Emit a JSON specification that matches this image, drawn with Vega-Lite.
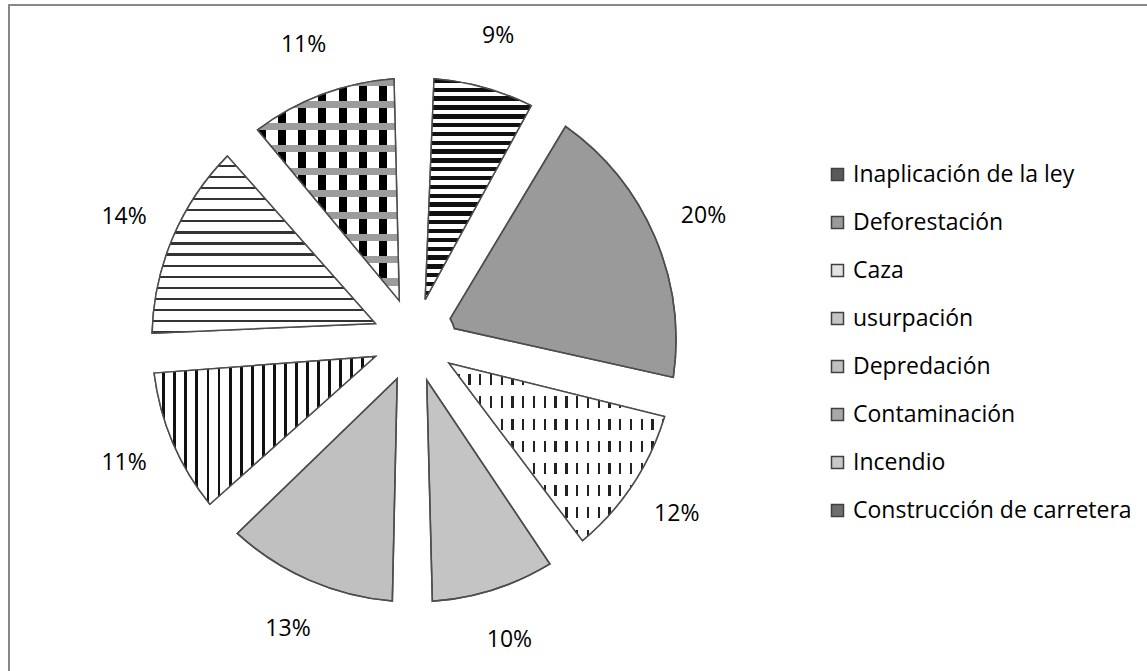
{
  "$schema": "https://vega.github.io/schema/vega-lite/v6.json",
  "width": 1138,
  "height": 666,
  "autosize": "none",
  "padding": {"left": 9, "top": 5, "right": 0, "bottom": 0},
  "background": "white",
  "config": {
    "view": {"stroke": "#888888", "strokeWidth": 2, "strokeDash": [1138, 1804, 666]}
  },
  "data": {
    "values": [
      {"cat": "Inaplicación de la ley", "v": 0.086, "orden": 1},
      {"cat": "Deforestación", "v": 0.199, "orden": 2},
      {"cat": "Caza", "v": 0.116, "orden": 3},
      {"cat": "usurpación", "v": 0.100, "orden": 4},
      {"cat": "Depredación", "v": 0.129, "orden": 5},
      {"cat": "Contaminación", "v": 0.112, "orden": 6},
      {"cat": "Incendio", "v": 0.144, "orden": 7},
      {"cat": "Construcción de carretera", "v": 0.114, "orden": 8}
    ]
  },
  "encoding": {
    "theta": {"field": "v", "type": "quantitative", "stack": true},
    "order": {"field": "orden", "type": "quantitative"},
    "detail": {"field": "cat", "type": "nominal"},
    "x": {"datum": 0.35589, "type": "quantitative", "scale": {"domain": [0, 1]}, "axis": null},
    "y": {"datum": 0.497, "type": "quantitative", "scale": {"domain": [0, 1]}, "axis": null}
  },
  "layer": [
    {
      "mark": {"type": "arc", "outerRadius": 262, "innerRadius": 42, "padAngle": 0.151, "stroke": "#4d4d4d", "strokeWidth": 1.5},
      "encoding": {
        "color": {
          "field": "cat", "type": "nominal",
          "scale": {
            "domain": ["Inaplicación de la ley", "Deforestación", "Caza", "usurpación", "Depredación", "Contaminación", "Incendio", "Construcción de carretera"],
            "range": ["#5a5a5a", "#9a9a9a", "#e2e2e2", "#c4c4c4", "#c0c0c0", "#a8a8a8", "#c8c8c8", "#6e6e6e"]
          },
          "legend": {
            "title": null, "orient": "none", "legendX": 817, "legendY": 158,
            "labelFont": "Open Sans", "labelFontSize": 23, "labelColor": "#000000",
            "symbolType": "square", "symbolSize": 144, "symbolStrokeColor": "#404040", "symbolStrokeWidth": 1.5,
            "rowPadding": 24, "labelOffset": 4, "padding": 0, "labelLimit": 400
          }
        }
      }
    },
    {
      "mark": {"type": "arc", "outerRadius": 262, "innerRadius": 42, "padAngle": 0.151, "strokeWidth": 0},
      "encoding": {
        "fill": {
          "condition": [
            {"test": "datum.cat === 'Inaplicación de la ley'", "value": {"gradient": "linear", "x1": 0, "y1": 0, "x2": 0, "y2": 1, "stops": [
              {"offset":0,"color":"#111"},{"offset":0.02,"color":"#111"},{"offset":0.02,"color":"#fff"},{"offset":0.04,"color":"#fff"},
              {"offset":0.04,"color":"#111"},{"offset":0.06,"color":"#111"},{"offset":0.06,"color":"#fff"},{"offset":0.08,"color":"#fff"},
              {"offset":0.08,"color":"#111"},{"offset":0.1,"color":"#111"},{"offset":0.1,"color":"#fff"},{"offset":0.12,"color":"#fff"},
              {"offset":0.12,"color":"#111"},{"offset":0.14,"color":"#111"},{"offset":0.14,"color":"#fff"},{"offset":0.16,"color":"#fff"},
              {"offset":0.16,"color":"#111"},{"offset":0.18,"color":"#111"},{"offset":0.18,"color":"#fff"},{"offset":0.2,"color":"#fff"},
              {"offset":0.2,"color":"#111"},{"offset":0.22,"color":"#111"},{"offset":0.22,"color":"#fff"},{"offset":0.24,"color":"#fff"},
              {"offset":0.24,"color":"#111"},{"offset":0.26,"color":"#111"},{"offset":0.26,"color":"#fff"},{"offset":0.28,"color":"#fff"},
              {"offset":0.28,"color":"#111"},{"offset":0.3,"color":"#111"},{"offset":0.3,"color":"#fff"},{"offset":0.32,"color":"#fff"},
              {"offset":0.32,"color":"#111"},{"offset":0.34,"color":"#111"},{"offset":0.34,"color":"#fff"},{"offset":0.36,"color":"#fff"},
              {"offset":0.36,"color":"#111"},{"offset":0.38,"color":"#111"},{"offset":0.38,"color":"#fff"},{"offset":0.4,"color":"#fff"},
              {"offset":0.4,"color":"#111"},{"offset":0.42,"color":"#111"},{"offset":0.42,"color":"#fff"},{"offset":0.44,"color":"#fff"},
              {"offset":0.44,"color":"#111"},{"offset":0.46,"color":"#111"},{"offset":0.46,"color":"#fff"},{"offset":0.48,"color":"#fff"},
              {"offset":0.48,"color":"#111"},{"offset":0.5,"color":"#111"},{"offset":0.5,"color":"#fff"},{"offset":0.52,"color":"#fff"},
              {"offset":0.52,"color":"#111"},{"offset":0.54,"color":"#111"},{"offset":0.54,"color":"#fff"},{"offset":0.56,"color":"#fff"},
              {"offset":0.56,"color":"#111"},{"offset":0.58,"color":"#111"},{"offset":0.58,"color":"#fff"},{"offset":0.6,"color":"#fff"},
              {"offset":0.6,"color":"#111"},{"offset":0.62,"color":"#111"},{"offset":0.62,"color":"#fff"},{"offset":0.64,"color":"#fff"},
              {"offset":0.64,"color":"#111"},{"offset":0.66,"color":"#111"},{"offset":0.66,"color":"#fff"},{"offset":0.68,"color":"#fff"},
              {"offset":0.68,"color":"#111"},{"offset":0.7,"color":"#111"},{"offset":0.7,"color":"#fff"},{"offset":0.72,"color":"#fff"},
              {"offset":0.72,"color":"#111"},{"offset":0.74,"color":"#111"},{"offset":0.74,"color":"#fff"},{"offset":0.76,"color":"#fff"},
              {"offset":0.76,"color":"#111"},{"offset":0.78,"color":"#111"},{"offset":0.78,"color":"#fff"},{"offset":0.8,"color":"#fff"},
              {"offset":0.8,"color":"#111"},{"offset":0.82,"color":"#111"},{"offset":0.82,"color":"#fff"},{"offset":0.84,"color":"#fff"},
              {"offset":0.84,"color":"#111"},{"offset":0.86,"color":"#111"},{"offset":0.86,"color":"#fff"},{"offset":0.88,"color":"#fff"},
              {"offset":0.88,"color":"#111"},{"offset":0.9,"color":"#111"},{"offset":0.9,"color":"#fff"},{"offset":0.92,"color":"#fff"},
              {"offset":0.92,"color":"#111"},{"offset":0.94,"color":"#111"},{"offset":0.94,"color":"#fff"},{"offset":0.96,"color":"#fff"},
              {"offset":0.96,"color":"#111"},{"offset":0.98,"color":"#111"},{"offset":0.98,"color":"#fff"},{"offset":1,"color":"#fff"}
            ]}},
            {"test": "datum.cat === 'Caza'", "value": {"gradient": "linear", "x1": 0, "y1": 0, "x2": 1, "y2": 0, "stops": [
              {"offset":0,"color":"#fff"},{"offset":0.039,"color":"#fff"},{"offset":0.039,"color":"#222"},{"offset":0.05,"color":"#222"},
              {"offset":0.05,"color":"#fff"},{"offset":0.089,"color":"#fff"},{"offset":0.089,"color":"#222"},{"offset":0.1,"color":"#222"},
              {"offset":0.1,"color":"#fff"},{"offset":0.139,"color":"#fff"},{"offset":0.139,"color":"#222"},{"offset":0.15,"color":"#222"},
              {"offset":0.15,"color":"#fff"},{"offset":0.189,"color":"#fff"},{"offset":0.189,"color":"#222"},{"offset":0.2,"color":"#222"},
              {"offset":0.2,"color":"#fff"},{"offset":0.239,"color":"#fff"},{"offset":0.239,"color":"#222"},{"offset":0.25,"color":"#222"},
              {"offset":0.25,"color":"#fff"},{"offset":0.289,"color":"#fff"},{"offset":0.289,"color":"#222"},{"offset":0.3,"color":"#222"},
              {"offset":0.3,"color":"#fff"},{"offset":0.339,"color":"#fff"},{"offset":0.339,"color":"#222"},{"offset":0.35,"color":"#222"},
              {"offset":0.35,"color":"#fff"},{"offset":0.389,"color":"#fff"},{"offset":0.389,"color":"#222"},{"offset":0.4,"color":"#222"},
              {"offset":0.4,"color":"#fff"},{"offset":0.439,"color":"#fff"},{"offset":0.439,"color":"#222"},{"offset":0.45,"color":"#222"},
              {"offset":0.45,"color":"#fff"},{"offset":0.489,"color":"#fff"},{"offset":0.489,"color":"#222"},{"offset":0.5,"color":"#222"},
              {"offset":0.5,"color":"#fff"},{"offset":0.539,"color":"#fff"},{"offset":0.539,"color":"#222"},{"offset":0.55,"color":"#222"},
              {"offset":0.55,"color":"#fff"},{"offset":0.589,"color":"#fff"},{"offset":0.589,"color":"#222"},{"offset":0.6,"color":"#222"},
              {"offset":0.6,"color":"#fff"},{"offset":0.639,"color":"#fff"},{"offset":0.639,"color":"#222"},{"offset":0.65,"color":"#222"},
              {"offset":0.65,"color":"#fff"},{"offset":0.689,"color":"#fff"},{"offset":0.689,"color":"#222"},{"offset":0.7,"color":"#222"},
              {"offset":0.7,"color":"#fff"},{"offset":0.739,"color":"#fff"},{"offset":0.739,"color":"#222"},{"offset":0.75,"color":"#222"},
              {"offset":0.75,"color":"#fff"},{"offset":0.789,"color":"#fff"},{"offset":0.789,"color":"#222"},{"offset":0.8,"color":"#222"},
              {"offset":0.8,"color":"#fff"},{"offset":0.839,"color":"#fff"},{"offset":0.839,"color":"#222"},{"offset":0.85,"color":"#222"},
              {"offset":0.85,"color":"#fff"},{"offset":0.889,"color":"#fff"},{"offset":0.889,"color":"#222"},{"offset":0.9,"color":"#222"},
              {"offset":0.9,"color":"#fff"},{"offset":0.939,"color":"#fff"},{"offset":0.939,"color":"#222"},{"offset":0.95,"color":"#222"},
              {"offset":0.95,"color":"#fff"},{"offset":0.989,"color":"#fff"},{"offset":0.989,"color":"#222"},{"offset":1,"color":"#222"}
            ]}},
            {"test": "datum.cat === 'Contaminación'", "value": {"gradient": "linear", "x1": 0, "y1": 0, "x2": 1, "y2": 0, "stops": [
              {"offset":0,"color":"#fff"},{"offset":0.037,"color":"#fff"},{"offset":0.037,"color":"#111"},{"offset":0.05,"color":"#111"},
              {"offset":0.05,"color":"#fff"},{"offset":0.087,"color":"#fff"},{"offset":0.087,"color":"#111"},{"offset":0.1,"color":"#111"},
              {"offset":0.1,"color":"#fff"},{"offset":0.137,"color":"#fff"},{"offset":0.137,"color":"#111"},{"offset":0.15,"color":"#111"},
              {"offset":0.15,"color":"#fff"},{"offset":0.187,"color":"#fff"},{"offset":0.187,"color":"#111"},{"offset":0.2,"color":"#111"},
              {"offset":0.2,"color":"#fff"},{"offset":0.237,"color":"#fff"},{"offset":0.237,"color":"#111"},{"offset":0.25,"color":"#111"},
              {"offset":0.25,"color":"#fff"},{"offset":0.287,"color":"#fff"},{"offset":0.287,"color":"#111"},{"offset":0.3,"color":"#111"},
              {"offset":0.3,"color":"#fff"},{"offset":0.337,"color":"#fff"},{"offset":0.337,"color":"#111"},{"offset":0.35,"color":"#111"},
              {"offset":0.35,"color":"#fff"},{"offset":0.387,"color":"#fff"},{"offset":0.387,"color":"#111"},{"offset":0.4,"color":"#111"},
              {"offset":0.4,"color":"#fff"},{"offset":0.437,"color":"#fff"},{"offset":0.437,"color":"#111"},{"offset":0.45,"color":"#111"},
              {"offset":0.45,"color":"#fff"},{"offset":0.487,"color":"#fff"},{"offset":0.487,"color":"#111"},{"offset":0.5,"color":"#111"},
              {"offset":0.5,"color":"#fff"},{"offset":0.537,"color":"#fff"},{"offset":0.537,"color":"#111"},{"offset":0.55,"color":"#111"},
              {"offset":0.55,"color":"#fff"},{"offset":0.587,"color":"#fff"},{"offset":0.587,"color":"#111"},{"offset":0.6,"color":"#111"},
              {"offset":0.6,"color":"#fff"},{"offset":0.637,"color":"#fff"},{"offset":0.637,"color":"#111"},{"offset":0.65,"color":"#111"},
              {"offset":0.65,"color":"#fff"},{"offset":0.687,"color":"#fff"},{"offset":0.687,"color":"#111"},{"offset":0.7,"color":"#111"},
              {"offset":0.7,"color":"#fff"},{"offset":0.737,"color":"#fff"},{"offset":0.737,"color":"#111"},{"offset":0.75,"color":"#111"},
              {"offset":0.75,"color":"#fff"},{"offset":0.787,"color":"#fff"},{"offset":0.787,"color":"#111"},{"offset":0.8,"color":"#111"},
              {"offset":0.8,"color":"#fff"},{"offset":0.837,"color":"#fff"},{"offset":0.837,"color":"#111"},{"offset":0.85,"color":"#111"},
              {"offset":0.85,"color":"#fff"},{"offset":0.887,"color":"#fff"},{"offset":0.887,"color":"#111"},{"offset":0.9,"color":"#111"},
              {"offset":0.9,"color":"#fff"},{"offset":0.937,"color":"#fff"},{"offset":0.937,"color":"#111"},{"offset":0.95,"color":"#111"},
              {"offset":0.95,"color":"#fff"},{"offset":0.987,"color":"#fff"},{"offset":0.987,"color":"#111"},{"offset":1,"color":"#111"}
            ]}},
            {"test": "datum.cat === 'Incendio'", "value": {"gradient": "linear", "x1": 0, "y1": 0, "x2": 0, "y2": 1, "stops": [
              {"offset":0,"color":"#fff"},{"offset":0.05,"color":"#fff"},{"offset":0.05,"color":"#333"},{"offset":0.0625,"color":"#333"},
              {"offset":0.0625,"color":"#fff"},{"offset":0.1125,"color":"#fff"},{"offset":0.1125,"color":"#333"},{"offset":0.125,"color":"#333"},
              {"offset":0.125,"color":"#fff"},{"offset":0.175,"color":"#fff"},{"offset":0.175,"color":"#333"},{"offset":0.1875,"color":"#333"},
              {"offset":0.1875,"color":"#fff"},{"offset":0.2375,"color":"#fff"},{"offset":0.2375,"color":"#333"},{"offset":0.25,"color":"#333"},
              {"offset":0.25,"color":"#fff"},{"offset":0.3,"color":"#fff"},{"offset":0.3,"color":"#333"},{"offset":0.3125,"color":"#333"},
              {"offset":0.3125,"color":"#fff"},{"offset":0.3625,"color":"#fff"},{"offset":0.3625,"color":"#333"},{"offset":0.375,"color":"#333"},
              {"offset":0.375,"color":"#fff"},{"offset":0.425,"color":"#fff"},{"offset":0.425,"color":"#333"},{"offset":0.4375,"color":"#333"},
              {"offset":0.4375,"color":"#fff"},{"offset":0.4875,"color":"#fff"},{"offset":0.4875,"color":"#333"},{"offset":0.5,"color":"#333"},
              {"offset":0.5,"color":"#fff"},{"offset":0.55,"color":"#fff"},{"offset":0.55,"color":"#333"},{"offset":0.5625,"color":"#333"},
              {"offset":0.5625,"color":"#fff"},{"offset":0.6125,"color":"#fff"},{"offset":0.6125,"color":"#333"},{"offset":0.625,"color":"#333"},
              {"offset":0.625,"color":"#fff"},{"offset":0.675,"color":"#fff"},{"offset":0.675,"color":"#333"},{"offset":0.6875,"color":"#333"},
              {"offset":0.6875,"color":"#fff"},{"offset":0.7375,"color":"#fff"},{"offset":0.7375,"color":"#333"},{"offset":0.75,"color":"#333"},
              {"offset":0.75,"color":"#fff"},{"offset":0.8,"color":"#fff"},{"offset":0.8,"color":"#333"},{"offset":0.8125,"color":"#333"},
              {"offset":0.8125,"color":"#fff"},{"offset":0.8625,"color":"#fff"},{"offset":0.8625,"color":"#333"},{"offset":0.875,"color":"#333"},
              {"offset":0.875,"color":"#fff"},{"offset":0.925,"color":"#fff"},{"offset":0.925,"color":"#333"},{"offset":0.9375,"color":"#333"},
              {"offset":0.9375,"color":"#fff"},{"offset":0.9875,"color":"#fff"},{"offset":0.9875,"color":"#333"},{"offset":1,"color":"#333"}
            ]}},
            {"test": "datum.cat === 'Construcción de carretera'", "value": {"gradient": "linear", "x1": 0, "y1": 0, "x2": 1, "y2": 0, "stops": [
              {"offset":0,"color":"#000"},{"offset":0.057,"color":"#000"},{"offset":0.057,"color":"#fff"},{"offset":0.1429,"color":"#fff"},
              {"offset":0.1429,"color":"#000"},{"offset":0.2,"color":"#000"},{"offset":0.2,"color":"#fff"},{"offset":0.2857,"color":"#fff"},
              {"offset":0.2857,"color":"#000"},{"offset":0.3427,"color":"#000"},{"offset":0.3427,"color":"#fff"},{"offset":0.4286,"color":"#fff"},
              {"offset":0.4286,"color":"#000"},{"offset":0.4856,"color":"#000"},{"offset":0.4856,"color":"#fff"},{"offset":0.5714,"color":"#fff"},
              {"offset":0.5714,"color":"#000"},{"offset":0.6284,"color":"#000"},{"offset":0.6284,"color":"#fff"},{"offset":0.7143,"color":"#fff"},
              {"offset":0.7143,"color":"#000"},{"offset":0.7713,"color":"#000"},{"offset":0.7713,"color":"#fff"},{"offset":0.8571,"color":"#fff"},
              {"offset":0.8571,"color":"#000"},{"offset":0.9141,"color":"#000"},{"offset":0.9141,"color":"#fff"},{"offset":1,"color":"#fff"}
            ]}}
          ],
          "value": "transparent"
        }
      }
    },
    {
      "mark": {"type": "arc", "outerRadius": 262, "innerRadius": 42, "padAngle": 0.151, "stroke": "#4d4d4d", "strokeWidth": 1.5},
      "encoding": {
        "fill": {
          "condition": [
            {"test": "datum.cat === 'Caza'", "value": {"gradient": "linear", "x1": 0, "y1": 0, "x2": 0, "y2": 1, "stops": [
              {"offset":0,"color":"#fff"},{"offset":0.0625,"color":"#fff"},{"offset":0.0625,"color":"rgba(255,255,255,0)"},{"offset":0.125,"color":"rgba(255,255,255,0)"},
              {"offset":0.125,"color":"#fff"},{"offset":0.1875,"color":"#fff"},{"offset":0.1875,"color":"rgba(255,255,255,0)"},{"offset":0.25,"color":"rgba(255,255,255,0)"},
              {"offset":0.25,"color":"#fff"},{"offset":0.3125,"color":"#fff"},{"offset":0.3125,"color":"rgba(255,255,255,0)"},{"offset":0.375,"color":"rgba(255,255,255,0)"},
              {"offset":0.375,"color":"#fff"},{"offset":0.4375,"color":"#fff"},{"offset":0.4375,"color":"rgba(255,255,255,0)"},{"offset":0.5,"color":"rgba(255,255,255,0)"},
              {"offset":0.5,"color":"#fff"},{"offset":0.5625,"color":"#fff"},{"offset":0.5625,"color":"rgba(255,255,255,0)"},{"offset":0.625,"color":"rgba(255,255,255,0)"},
              {"offset":0.625,"color":"#fff"},{"offset":0.6875,"color":"#fff"},{"offset":0.6875,"color":"rgba(255,255,255,0)"},{"offset":0.75,"color":"rgba(255,255,255,0)"},
              {"offset":0.75,"color":"#fff"},{"offset":0.8125,"color":"#fff"},{"offset":0.8125,"color":"rgba(255,255,255,0)"},{"offset":0.875,"color":"rgba(255,255,255,0)"},
              {"offset":0.875,"color":"#fff"},{"offset":0.9375,"color":"#fff"},{"offset":0.9375,"color":"rgba(255,255,255,0)"},{"offset":1,"color":"rgba(255,255,255,0)"}
            ]}},
            {"test": "datum.cat === 'Construcción de carretera'", "value": {"gradient": "linear", "x1": 0, "y1": 0, "x2": 0, "y2": 1, "stops": [
              {"offset":0,"color":"#9c9c9c"},{"offset":0.032,"color":"#9c9c9c"},{"offset":0.032,"color":"rgba(0,0,0,0)"},{"offset":0.1,"color":"rgba(0,0,0,0)"},
              {"offset":0.1,"color":"#9c9c9c"},{"offset":0.132,"color":"#9c9c9c"},{"offset":0.132,"color":"rgba(0,0,0,0)"},{"offset":0.2,"color":"rgba(0,0,0,0)"},
              {"offset":0.2,"color":"#9c9c9c"},{"offset":0.232,"color":"#9c9c9c"},{"offset":0.232,"color":"rgba(0,0,0,0)"},{"offset":0.3,"color":"rgba(0,0,0,0)"},
              {"offset":0.3,"color":"#9c9c9c"},{"offset":0.332,"color":"#9c9c9c"},{"offset":0.332,"color":"rgba(0,0,0,0)"},{"offset":0.4,"color":"rgba(0,0,0,0)"},
              {"offset":0.4,"color":"#9c9c9c"},{"offset":0.432,"color":"#9c9c9c"},{"offset":0.432,"color":"rgba(0,0,0,0)"},{"offset":0.5,"color":"rgba(0,0,0,0)"},
              {"offset":0.5,"color":"#9c9c9c"},{"offset":0.532,"color":"#9c9c9c"},{"offset":0.532,"color":"rgba(0,0,0,0)"},{"offset":0.6,"color":"rgba(0,0,0,0)"},
              {"offset":0.6,"color":"#9c9c9c"},{"offset":0.632,"color":"#9c9c9c"},{"offset":0.632,"color":"rgba(0,0,0,0)"},{"offset":0.7,"color":"rgba(0,0,0,0)"},
              {"offset":0.7,"color":"#9c9c9c"},{"offset":0.732,"color":"#9c9c9c"},{"offset":0.732,"color":"rgba(0,0,0,0)"},{"offset":0.8,"color":"rgba(0,0,0,0)"},
              {"offset":0.8,"color":"#9c9c9c"},{"offset":0.832,"color":"#9c9c9c"},{"offset":0.832,"color":"rgba(0,0,0,0)"},{"offset":0.9,"color":"rgba(0,0,0,0)"},
              {"offset":0.9,"color":"#9c9c9c"},{"offset":0.932,"color":"#9c9c9c"},{"offset":0.932,"color":"rgba(0,0,0,0)"},{"offset":1,"color":"rgba(0,0,0,0)"}
            ]}}
          ],
          "value": "transparent"
        }
      }
    },
    {
      "mark": {"type": "text", "radius": 315, "font": "Open Sans", "fontSize": 23, "color": "#000000"},
      "encoding": {
        "text": {"field": "v", "type": "quantitative", "format": ".0%"}
      }
    }
  ]
}
